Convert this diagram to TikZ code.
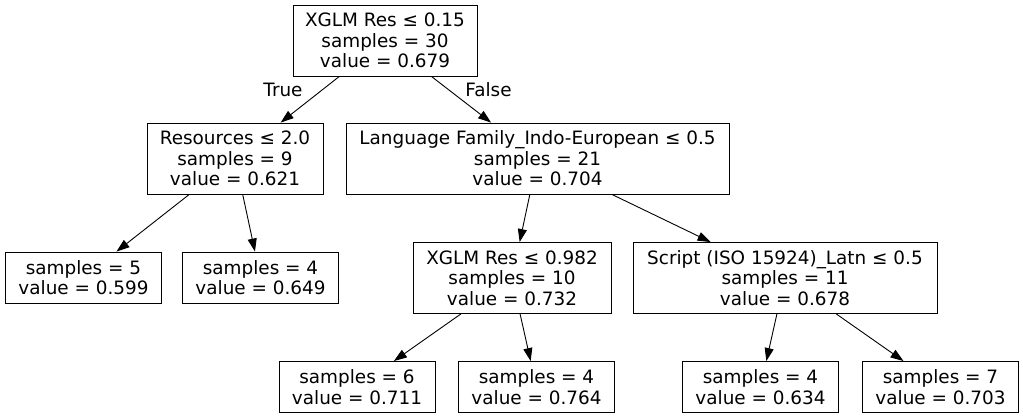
\documentclass[tikz,border=0pt]{standalone}
\usepackage{fontspec}
\setmainfont{DejaVu Sans}
\usetikzlibrary{arrows.meta}
\tikzset{
  treebox/.style={draw=black, line width=0.9pt, inner sep=0pt, align=center,
    font=\fontsize{18.4}{20.5}\selectfont, minimum height=71pt},
  leafbox/.style={treebox, minimum width=156pt, minimum height=51pt},
  edgelab/.style={inner sep=0pt, font=\fontsize{18.4}{20.5}\selectfont},
  conn/.style={line width=0.9pt, -{Triangle[length=13pt,width=9pt]}}
}
\begin{document}
\begin{tikzpicture}[x=1pt,y=-1pt]
\useasboundingbox[fill=white] (0,0) rectangle (1023,417);
\node[treebox, minimum width=184pt] (root) at (385,40.5) {XGLM Res ≤ 0.15\\samples = 30\\value = 0.679};
\node[treebox, minimum width=176pt] (res) at (235,158.5) {Resources ≤ 2.0\\samples = 9\\value = 0.621};
\node[treebox, minimum width=383pt] (lang) at (537.5,158.5) {Language Family\_Indo-European ≤ 0.5\\samples = 21\\value = 0.704};
\node[leafbox] (s5) at (83.5,277.5) {samples = 5\\value = 0.599};
\node[leafbox] (s4a) at (260.5,277.5) {samples = 4\\value = 0.649};
\node[treebox, minimum width=198pt] (xglm) at (512,278) {XGLM Res ≤ 0.982\\samples = 10\\value = 0.732};
\node[treebox, minimum width=304pt] (script) at (785,278) {Script (ISO 15924)\_Latn ≤ 0.5\\samples = 11\\value = 0.678};
\node[leafbox] (s6) at (357,387) {samples = 6\\value = 0.711};
\node[leafbox] (s4b) at (536.5,387) {samples = 4\\value = 0.764};
\node[leafbox] (s4c) at (760.5,387) {samples = 4\\value = 0.634};
\node[leafbox] (s7) at (940.5,387) {samples = 7\\value = 0.703};
\draw[conn] (root) -- (res);
\draw[conn] (root) -- (lang);
\draw[conn] (res) -- (s5);
\draw[conn] (res) -- (s4a);
\draw[conn] (lang) -- (xglm);
\draw[conn] (lang) -- (script);
\draw[conn] (xglm) -- (s6);
\draw[conn] (xglm) -- (s4b);
\draw[conn] (script) -- (s4c);
\draw[conn] (script) -- (s7);
\node[edgelab] (tl) at (283,90) {True};
\node[edgelab] (fl) at (488.5,90) {False};
\end{tikzpicture}
\end{document}
